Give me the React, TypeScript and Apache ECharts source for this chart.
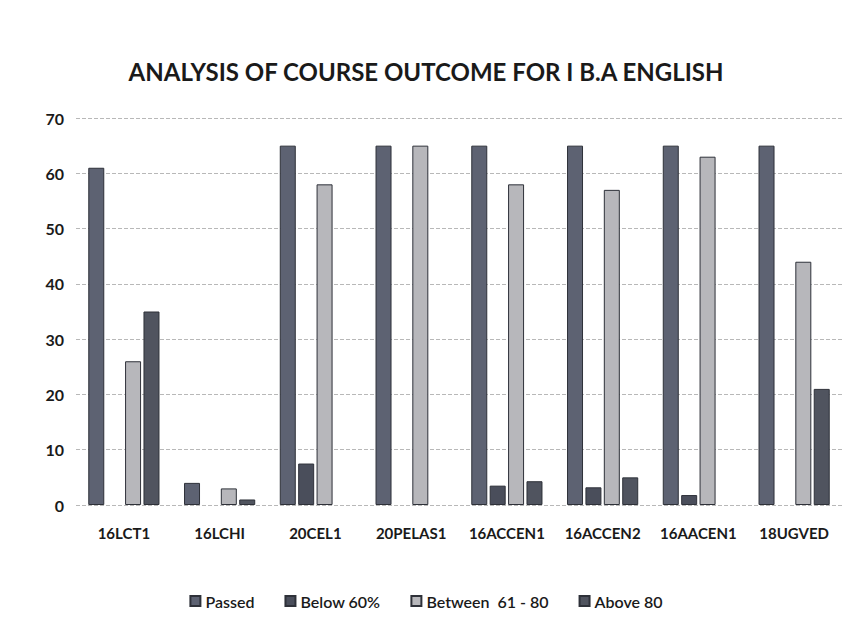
import React, { useEffect, useRef } from "react";
import * as echarts from "echarts";

const categories = ["16LCT1", "16LCHI", "20CEL1", "20PELAS1", "16ACCEN1", "16ACCEN2", "16AACEN1", "18UGVED"];
const passed = [61, 4, 65, 65, 65, 65, 65, 65];
const below60 = [0, 0, 7.5, 0, 3.5, 3.2, 1.8, 0];
const between61to80 = [26, 3, 58, 65, 58, 57, 63, 44];
const above80 = [35, 1, 0, 0, 4.3, 5, 0, 21];
const yTicks = [0, 10, 20, 30, 40, 50, 60, 70];

const FONT = "Lato, 'Open Sans', sans-serif";

export default function App() {
  const ref = useRef<HTMLDivElement>(null);
  useEffect(() => {
    document.body.style.margin = "0";
    if (!ref.current) return;
    const chart = echarts.init(ref.current, undefined, { renderer: "svg" });
    const mk = (name: string, data: number[], color: string) => ({
      name,
      type: "bar",
      data: data.map((v) => (v === 0 ? null : v)),
      barWidth: 16,
      barGap: "15%",
      itemStyle: { color, borderColor: "#2e3139", borderWidth: 1 },
    });
    chart.setOption({
      animation: false,
      backgroundColor: "#ffffff",
      title: {
        text: "ANALYSIS OF COURSE OUTCOME FOR I B.A ENGLISH",
        left: "center",
        top: 54,
        textStyle: { fontFamily: FONT, fontSize: 24, fontWeight: "bold", color: "#1a1a1a" },
      },
      grid: { left: 76, right: 10, top: 118, bottom: 122, containLabel: false },
      legend: {
        top: 588,
        left: "center",
        itemWidth: 10,
        itemHeight: 10,
        itemGap: 30,
        icon: "rect",
        textStyle: { fontFamily: FONT, fontSize: 16, fontWeight: 600, color: "#1a1a1a" },
        data: ["Passed", "Below 60%", "Between  61 - 80", "Above 80"],
      },
      xAxis: {
        type: "category",
        data: categories,
        axisLine: { show: false },
        axisTick: { show: false },
        axisLabel: { interval: 0, fontFamily: FONT, fontSize: 15, fontWeight: "bold", color: "#1a1a1a", margin: 20 },
      },
      yAxis: {
        type: "value",
        min: yTicks[0],
        max: yTicks[yTicks.length - 1],
        interval: 10,
        axisLine: { show: false },
        axisTick: { show: false },
        axisLabel: { fontFamily: FONT, fontSize: 16, fontWeight: "bold", color: "#1a1a1a", margin: 12 },
        splitLine: { lineStyle: { color: "#b8b8b8", type: "dashed", width: 1 } },
      },
      series: [
        mk("Passed", passed, "#5d6272"),
        mk("Below 60%", below60, "#4a4e5b"),
        mk("Between  61 - 80", between61to80, "#b7b7bb"),
        mk("Above 80", above80, "#50545f"),
      ],
    });
    return () => chart.dispose();
  }, []);
  return <div ref={ref} style={{ width: 852, height: 627 }} />;
}
